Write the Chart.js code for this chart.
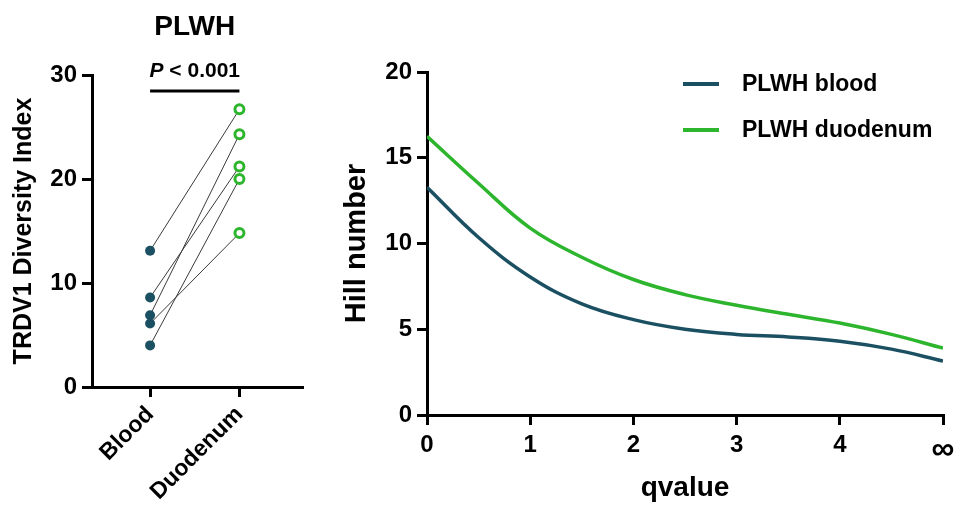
<!DOCTYPE html>
<html>
<head>
<meta charset="utf-8">
<script src="https://cdn.jsdelivr.net/npm/chart.js@4.4.1/dist/chart.umd.min.js"></script>
<style>
  body { margin: 0; background: #fff; }
  #wrap { position: relative; width: 956px; height: 509px; }
  canvas { position: absolute; top: 0; }
  #pair { left: 0; }
  #hill { left: 320px; }
</style>
</head>
<body>
<div id="wrap">
  <canvas id="pair" width="320" height="509"></canvas>
  <canvas id="hill" width="636" height="509"></canvas>
</div>
<script>
// left panel: paired diversity index
const groups = ['Blood', 'Duodenum'];
const bloodIndex = [13.1, 8.6, 6.9, 6.1, 4.0];
const duodenumIndex = [26.7, 21.2, 24.3, 14.8, 20.0];
const pairTicks = [0, 10, 20, 30];

// right panel: Hill numbers over q (5 = infinity)
const qValues = [0, 0.5, 1, 1.5, 2, 2.5, 3, 3.5, 4, 4.5, 5];
const qLabels = ['0', '1', '2', '3', '4', '∞'];
const hillBlood = [13.28, 10.35, 8.05, 6.48, 5.56, 5.0, 4.7, 4.55, 4.3, 3.84, 3.15];
const hillDuodenum = [16.25, 13.5, 10.9, 9.2, 7.9, 7.02, 6.4, 5.87, 5.36, 4.7, 3.9];
const hillTicks = [0, 5, 10, 15, 20];

const FONT = "'Liberation Sans', Arial, sans-serif";
const TEAL = '#1b5062';
const GREEN = '#2db52d';

Chart.defaults.font.family = FONT;
Chart.defaults.color = '#000';
Chart.defaults.animation = false;

function axisStyle(extra) {
    return Object.assign({
        grid: { drawOnChartArea: false, tickLength: 10, color: '#000', lineWidth: 3 },
        border: { color: '#000', width: 3 }
    }, extra);
}

// title, p value and bracket above the left panel
const pairHeader = {
    id: 'pairHeader',
    afterDraw(chart) {
        const ctx = chart.ctx;
        const x0 = chart.scales.x.getPixelForValue(0);
        const x1 = chart.scales.x.getPixelForValue(1);
        const mid = (x0 + x1) / 2;
        ctx.save();
        ctx.fillStyle = '#000';
        ctx.textBaseline = 'middle';
        ctx.textAlign = 'center';
        ctx.font = 'bold 28px ' + FONT;
        ctx.fillText('PLWH', mid, 27);

        ctx.textAlign = 'left';
        ctx.font = 'italic bold 21px ' + FONT;
        const wp = ctx.measureText('P').width;
        ctx.font = 'bold 21px ' + FONT;
        const rest = ' < 0.001';
        const wr = ctx.measureText(rest).width;
        let sx = mid - (wp + wr) / 2;
        ctx.font = 'italic bold 21px ' + FONT;
        ctx.fillText('P', sx, 71);
        ctx.font = 'bold 21px ' + FONT;
        ctx.fillText(rest, sx + wp, 71);

        ctx.strokeStyle = '#000';
        ctx.lineWidth = 3;
        ctx.beginPath();
        ctx.moveTo(x0, 91);
        ctx.lineTo(x1, 91);
        ctx.stroke();
        ctx.restore();
    }
};

const pairSets = bloodIndex.map((b, i) => ({
    data: [{ x: 0, y: b }, { x: 1, y: duodenumIndex[i] }],
    showLine: true,
    borderColor: '#3a3a3a',
    borderWidth: 1,
    pointRadius: [5, 4.5],
    pointBackgroundColor: [TEAL, '#fff'],
    pointBorderColor: [TEAL, GREEN],
    pointBorderWidth: [0, 3]
}));

new Chart(document.getElementById('pair'), {
    type: 'scatter',
    data: { datasets: pairSets },
    options: {
        responsive: false,
        devicePixelRatio: 1,
        layout: { padding: { top: 75, right: 18, left: 0, bottom: 0 } },
        plugins: { legend: { display: false }, tooltip: { enabled: false } },
        scales: {
            x: axisStyle({
                type: 'linear', min: -0.65, max: 1.7,
                afterBuildTicks: s => { s.ticks = groups.map((g, i) => ({ value: i })); },
                afterFit: s => { s.height = 122; },
                ticks: {
                    callback: v => groups[v],
                    font: { size: 23, weight: 'bold' },
                    maxRotation: 45, minRotation: 45, padding: 4
                }
            }),
            y: axisStyle({
                min: 0, max: 30,
                afterBuildTicks: s => { s.ticks = pairTicks.map(v => ({ value: v })); },
                afterFit: s => { s.width = 92; },
                ticks: { font: { size: 24, weight: 'bold' }, padding: 5 },
                title: {
                    display: true, text: 'TRDV1 Diversity Index',
                    font: { size: 25, weight: 'bold' }, padding: { top: 9, bottom: 0 }
                }
            })
        }
    },
    plugins: [pairHeader]
});

// legend in the upper right of the Hill panel
const hillLegend = {
    id: 'hillLegend',
    afterDraw(chart) {
        const ctx = chart.ctx;
        const a = chart.chartArea;
        ctx.save();
        ctx.font = 'bold 23px ' + FONT;
        ctx.textBaseline = 'middle';
        ctx.textAlign = 'left';
        chart.data.datasets.forEach((ds, i) => {
            const y = a.top + 12 + i * 46;
            ctx.strokeStyle = ds.borderColor;
            ctx.lineWidth = 4;
            ctx.beginPath();
            ctx.moveTo(a.left + 256, y);
            ctx.lineTo(a.left + 292, y);
            ctx.stroke();
            ctx.fillStyle = '#000';
            ctx.fillText(ds.label, a.left + 315, y + 1);
        });
        ctx.restore();
    }
};

function curve(label, values, color) {
    return {
        label: label,
        data: qValues.map((q, i) => ({ x: q, y: values[i] })),
        showLine: true,
        borderColor: color,
        borderWidth: 3.5,
        pointRadius: 0,
        tension: 0.4
    };
}

new Chart(document.getElementById('hill'), {
    type: 'scatter',
    data: {
        datasets: [
            curve('PLWH blood', hillBlood, TEAL),
            curve('PLWH duodenum', hillDuodenum, GREEN)
        ]
    },
    options: {
        responsive: false,
        devicePixelRatio: 1,
        layout: { padding: { top: 72, right: 13, left: 0, bottom: 0 } },
        plugins: { legend: { display: false }, tooltip: { enabled: false } },
        scales: {
            x: axisStyle({
                type: 'linear', min: 0, max: 5,
                afterBuildTicks: s => { s.ticks = qLabels.map((l, i) => ({ value: i })); },
                afterFit: s => { s.height = 94; s.paddingRight = 0; },
                ticks: {
                    callback: v => qLabels[v],
                    font: c => ({ size: c.index === 5 ? 32 : 24, weight: 'bold' }),
                    maxRotation: 0, padding: 6
                },
                title: {
                    display: true, text: 'qvalue',
                    font: { size: 28, weight: 'bold' }, padding: { top: 0, bottom: 4 }
                }
            }),
            y: axisStyle({
                min: 0, max: 20,
                afterBuildTicks: s => { s.ticks = hillTicks.map(v => ({ value: v })); },
                afterFit: s => { s.width = 107; },
                ticks: { font: { size: 24, weight: 'bold' }, padding: 5 },
                title: {
                    display: true, text: 'Hill number',
                    font: { size: 29, weight: 'bold' }, padding: { top: 20, bottom: 0 }
                }
            })
        }
    },
    plugins: [hillLegend]
});
</script>
</body>
</html>
